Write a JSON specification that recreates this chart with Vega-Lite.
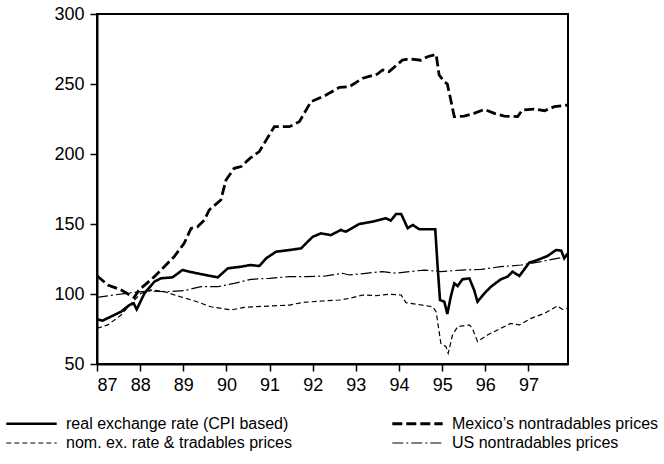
{
  "$schema": "https://vega.github.io/schema/vega-lite/v6.json",
  "width": 471,
  "height": 350,
  "autosize": "none",
  "padding": {"left": 97, "top": 14, "right": 96, "bottom": 100},
  "background": "white",
  "config": {
    "view": {"stroke": "black", "strokeWidth": 2},
    "axis": {
      "grid": false,
      "domainColor": "black",
      "domainWidth": 2,
      "tickColor": "black",
      "tickWidth": 1.5,
      "tickSize": 7,
      "labelFont": "Liberation Sans",
      "labelFontSize": 18,
      "labelColor": "black",
      "title": null
    },
    "legend": {
      "labelFont": "Liberation Sans",
      "labelFontSize": 16,
      "labelColor": "black",
      "labelLimit": 400,
      "symbolType": "M-2.8,0H2.8",
      "symbolSize": 324,
      "labelOffset": 24,
      "columnPadding": 94,
      "rowPadding": 1,
      "padding": 0
    }
  },
  "data": {"values": [
    {"s":"real exchange rate (CPI based)","x":87.0,"v":82},
    {"s":"real exchange rate (CPI based)","x":87.13,"v":81},
    {"s":"real exchange rate (CPI based)","x":87.32,"v":83.8},
    {"s":"real exchange rate (CPI based)","x":87.56,"v":87.4},
    {"s":"real exchange rate (CPI based)","x":87.75,"v":92.1},
    {"s":"real exchange rate (CPI based)","x":87.85,"v":93.3},
    {"s":"real exchange rate (CPI based)","x":87.92,"v":89},
    {"s":"real exchange rate (CPI based)","x":88.1,"v":100.5},
    {"s":"real exchange rate (CPI based)","x":88.33,"v":108.8},
    {"s":"real exchange rate (CPI based)","x":88.48,"v":111.2},
    {"s":"real exchange rate (CPI based)","x":88.75,"v":111.9},
    {"s":"real exchange rate (CPI based)","x":88.98,"v":117.1},
    {"s":"real exchange rate (CPI based)","x":89.25,"v":115.2},
    {"s":"real exchange rate (CPI based)","x":89.56,"v":113.3},
    {"s":"real exchange rate (CPI based)","x":89.8,"v":111.9},
    {"s":"real exchange rate (CPI based)","x":90.03,"v":118.3},
    {"s":"real exchange rate (CPI based)","x":90.34,"v":119.5},
    {"s":"real exchange rate (CPI based)","x":90.55,"v":120.7},
    {"s":"real exchange rate (CPI based)","x":90.76,"v":120},
    {"s":"real exchange rate (CPI based)","x":90.92,"v":125.5},
    {"s":"real exchange rate (CPI based)","x":91.15,"v":130.2},
    {"s":"real exchange rate (CPI based)","x":91.46,"v":131.4},
    {"s":"real exchange rate (CPI based)","x":91.73,"v":132.6},
    {"s":"real exchange rate (CPI based)","x":92.0,"v":140.9},
    {"s":"real exchange rate (CPI based)","x":92.19,"v":143.3},
    {"s":"real exchange rate (CPI based)","x":92.42,"v":142.1},
    {"s":"real exchange rate (CPI based)","x":92.65,"v":145.7},
    {"s":"real exchange rate (CPI based)","x":92.77,"v":144.5},
    {"s":"real exchange rate (CPI based)","x":93.08,"v":150},
    {"s":"real exchange rate (CPI based)","x":93.39,"v":151.7},
    {"s":"real exchange rate (CPI based)","x":93.7,"v":154.1},
    {"s":"real exchange rate (CPI based)","x":93.81,"v":152.4},
    {"s":"real exchange rate (CPI based)","x":93.93,"v":157.1},
    {"s":"real exchange rate (CPI based)","x":94.05,"v":157.1},
    {"s":"real exchange rate (CPI based)","x":94.12,"v":152.5},
    {"s":"real exchange rate (CPI based)","x":94.2,"v":147},
    {"s":"real exchange rate (CPI based)","x":94.32,"v":149.3},
    {"s":"real exchange rate (CPI based)","x":94.47,"v":146.2},
    {"s":"real exchange rate (CPI based)","x":94.84,"v":146.2},
    {"s":"real exchange rate (CPI based)","x":94.89,"v":121.9},
    {"s":"real exchange rate (CPI based)","x":94.95,"v":95.7},
    {"s":"real exchange rate (CPI based)","x":95.05,"v":94.5},
    {"s":"real exchange rate (CPI based)","x":95.12,"v":85.7},
    {"s":"real exchange rate (CPI based)","x":95.2,"v":98.1},
    {"s":"real exchange rate (CPI based)","x":95.28,"v":107.6},
    {"s":"real exchange rate (CPI based)","x":95.36,"v":105.7},
    {"s":"real exchange rate (CPI based)","x":95.47,"v":110.5},
    {"s":"real exchange rate (CPI based)","x":95.63,"v":111.2},
    {"s":"real exchange rate (CPI based)","x":95.74,"v":102.9},
    {"s":"real exchange rate (CPI based)","x":95.82,"v":94.5},
    {"s":"real exchange rate (CPI based)","x":95.98,"v":100.5},
    {"s":"real exchange rate (CPI based)","x":96.13,"v":105.2},
    {"s":"real exchange rate (CPI based)","x":96.36,"v":110.5},
    {"s":"real exchange rate (CPI based)","x":96.52,"v":112.4},
    {"s":"real exchange rate (CPI based)","x":96.63,"v":116},
    {"s":"real exchange rate (CPI based)","x":96.79,"v":112.9},
    {"s":"real exchange rate (CPI based)","x":97.02,"v":122.4},
    {"s":"real exchange rate (CPI based)","x":97.21,"v":124.3},
    {"s":"real exchange rate (CPI based)","x":97.44,"v":127.1},
    {"s":"real exchange rate (CPI based)","x":97.64,"v":131.4},
    {"s":"real exchange rate (CPI based)","x":97.76,"v":131},
    {"s":"real exchange rate (CPI based)","x":97.83,"v":125.5},
    {"s":"real exchange rate (CPI based)","x":97.91,"v":129},

    {"s":"Mexico’s nontradables prices","x":87.0,"v":113},
    {"s":"Mexico’s nontradables prices","x":87.25,"v":106.4},
    {"s":"Mexico’s nontradables prices","x":87.56,"v":102.9},
    {"s":"Mexico’s nontradables prices","x":87.86,"v":97.5},
    {"s":"Mexico’s nontradables prices","x":87.98,"v":103},
    {"s":"Mexico’s nontradables prices","x":88.33,"v":112.4},
    {"s":"Mexico’s nontradables prices","x":88.79,"v":126.7},
    {"s":"Mexico’s nontradables prices","x":89.02,"v":136.2},
    {"s":"Mexico’s nontradables prices","x":89.18,"v":146.9},
    {"s":"Mexico’s nontradables prices","x":89.33,"v":148.1},
    {"s":"Mexico’s nontradables prices","x":89.49,"v":152.9},
    {"s":"Mexico’s nontradables prices","x":89.6,"v":160},
    {"s":"Mexico’s nontradables prices","x":89.87,"v":167.1},
    {"s":"Mexico’s nontradables prices","x":89.99,"v":181.4},
    {"s":"Mexico’s nontradables prices","x":90.18,"v":189.8},
    {"s":"Mexico’s nontradables prices","x":90.34,"v":191},
    {"s":"Mexico’s nontradables prices","x":90.55,"v":197},
    {"s":"Mexico’s nontradables prices","x":90.76,"v":201.7},
    {"s":"Mexico’s nontradables prices","x":91.11,"v":219.5},
    {"s":"Mexico’s nontradables prices","x":91.46,"v":219.5},
    {"s":"Mexico’s nontradables prices","x":91.69,"v":223.1},
    {"s":"Mexico’s nontradables prices","x":91.96,"v":237.4},
    {"s":"Mexico’s nontradables prices","x":92.31,"v":242.1},
    {"s":"Mexico’s nontradables prices","x":92.62,"v":247.6},
    {"s":"Mexico’s nontradables prices","x":92.85,"v":248.1},
    {"s":"Mexico’s nontradables prices","x":93.16,"v":254.1},
    {"s":"Mexico’s nontradables prices","x":93.5,"v":257.1},
    {"s":"Mexico’s nontradables prices","x":93.62,"v":260},
    {"s":"Mexico’s nontradables prices","x":93.77,"v":258.8},
    {"s":"Mexico’s nontradables prices","x":94.08,"v":267.1},
    {"s":"Mexico’s nontradables prices","x":94.24,"v":268},
    {"s":"Mexico’s nontradables prices","x":94.51,"v":267},
    {"s":"Mexico’s nontradables prices","x":94.66,"v":269.5},
    {"s":"Mexico’s nontradables prices","x":94.86,"v":271.2},
    {"s":"Mexico’s nontradables prices","x":94.93,"v":256.4},
    {"s":"Mexico’s nontradables prices","x":95.05,"v":251.6},
    {"s":"Mexico’s nontradables prices","x":95.12,"v":250},
    {"s":"Mexico’s nontradables prices","x":95.2,"v":238.6},
    {"s":"Mexico’s nontradables prices","x":95.28,"v":226.7},
    {"s":"Mexico’s nontradables prices","x":95.51,"v":227.1},
    {"s":"Mexico’s nontradables prices","x":95.74,"v":229},
    {"s":"Mexico’s nontradables prices","x":95.98,"v":231.9},
    {"s":"Mexico’s nontradables prices","x":96.21,"v":229},
    {"s":"Mexico’s nontradables prices","x":96.44,"v":227.1},
    {"s":"Mexico’s nontradables prices","x":96.75,"v":226.7},
    {"s":"Mexico’s nontradables prices","x":96.86,"v":231.4},
    {"s":"Mexico’s nontradables prices","x":97.13,"v":232.1},
    {"s":"Mexico’s nontradables prices","x":97.37,"v":230.9},
    {"s":"Mexico’s nontradables prices","x":97.6,"v":233.8},
    {"s":"Mexico’s nontradables prices","x":97.91,"v":235},

    {"s":"nom. ex. rate & tradables prices","x":87.0,"v":75.5},
    {"s":"nom. ex. rate & tradables prices","x":87.25,"v":77.9},
    {"s":"nom. ex. rate & tradables prices","x":87.56,"v":85},
    {"s":"nom. ex. rate & tradables prices","x":87.83,"v":94.5},
    {"s":"nom. ex. rate & tradables prices","x":88.02,"v":100.5},
    {"s":"nom. ex. rate & tradables prices","x":88.25,"v":102.9},
    {"s":"nom. ex. rate & tradables prices","x":88.56,"v":101.7},
    {"s":"nom. ex. rate & tradables prices","x":88.87,"v":98.6},
    {"s":"nom. ex. rate & tradables prices","x":89.25,"v":95.2},
    {"s":"nom. ex. rate & tradables prices","x":89.64,"v":90.9},
    {"s":"nom. ex. rate & tradables prices","x":90.11,"v":88.6},
    {"s":"nom. ex. rate & tradables prices","x":90.41,"v":90.5},
    {"s":"nom. ex. rate & tradables prices","x":90.65,"v":90.9},
    {"s":"nom. ex. rate & tradables prices","x":91.0,"v":91.4},
    {"s":"nom. ex. rate & tradables prices","x":91.46,"v":92.1},
    {"s":"nom. ex. rate & tradables prices","x":91.77,"v":94},
    {"s":"nom. ex. rate & tradables prices","x":92.23,"v":95},
    {"s":"nom. ex. rate & tradables prices","x":92.62,"v":95.7},
    {"s":"nom. ex. rate & tradables prices","x":92.85,"v":96.9},
    {"s":"nom. ex. rate & tradables prices","x":93.16,"v":99.3},
    {"s":"nom. ex. rate & tradables prices","x":93.47,"v":98.8},
    {"s":"nom. ex. rate & tradables prices","x":93.77,"v":99.8},
    {"s":"nom. ex. rate & tradables prices","x":94.05,"v":99.3},
    {"s":"nom. ex. rate & tradables prices","x":94.16,"v":93.8},
    {"s":"nom. ex. rate & tradables prices","x":94.43,"v":92.6},
    {"s":"nom. ex. rate & tradables prices","x":94.78,"v":90.9},
    {"s":"nom. ex. rate & tradables prices","x":94.86,"v":87.4},
    {"s":"nom. ex. rate & tradables prices","x":94.97,"v":64.8},
    {"s":"nom. ex. rate & tradables prices","x":95.09,"v":62.4},
    {"s":"nom. ex. rate & tradables prices","x":95.14,"v":57.6},
    {"s":"nom. ex. rate & tradables prices","x":95.24,"v":70.7},
    {"s":"nom. ex. rate & tradables prices","x":95.36,"v":76.7},
    {"s":"nom. ex. rate & tradables prices","x":95.63,"v":77.9},
    {"s":"nom. ex. rate & tradables prices","x":95.7,"v":75.5},
    {"s":"nom. ex. rate & tradables prices","x":95.82,"v":66},
    {"s":"nom. ex. rate & tradables prices","x":96.05,"v":70.7},
    {"s":"nom. ex. rate & tradables prices","x":96.36,"v":75.5},
    {"s":"nom. ex. rate & tradables prices","x":96.59,"v":79},
    {"s":"nom. ex. rate & tradables prices","x":96.79,"v":77.9},
    {"s":"nom. ex. rate & tradables prices","x":97.06,"v":82.6},
    {"s":"nom. ex. rate & tradables prices","x":97.37,"v":86.2},
    {"s":"nom. ex. rate & tradables prices","x":97.67,"v":91.4},
    {"s":"nom. ex. rate & tradables prices","x":97.79,"v":89},
    {"s":"nom. ex. rate & tradables prices","x":97.91,"v":89.8},

    {"s":"US nontradables prices","x":87.0,"v":97.6},
    {"s":"US nontradables prices","x":87.4,"v":99.3},
    {"s":"US nontradables prices","x":87.79,"v":100.9},
    {"s":"US nontradables prices","x":88.17,"v":102.1},
    {"s":"US nontradables prices","x":88.64,"v":101.7},
    {"s":"US nontradables prices","x":89.02,"v":102.4},
    {"s":"US nontradables prices","x":89.41,"v":105.2},
    {"s":"US nontradables prices","x":89.8,"v":105.2},
    {"s":"US nontradables prices","x":90.18,"v":107.6},
    {"s":"US nontradables prices","x":90.57,"v":110.5},
    {"s":"US nontradables prices","x":91.0,"v":111.2},
    {"s":"US nontradables prices","x":91.46,"v":112.4},
    {"s":"US nontradables prices","x":91.84,"v":112.4},
    {"s":"US nontradables prices","x":92.31,"v":112.9},
    {"s":"US nontradables prices","x":92.69,"v":114.8},
    {"s":"US nontradables prices","x":92.85,"v":113.6},
    {"s":"US nontradables prices","x":93.23,"v":114.8},
    {"s":"US nontradables prices","x":93.62,"v":116},
    {"s":"US nontradables prices","x":93.93,"v":114.8},
    {"s":"US nontradables prices","x":94.24,"v":116},
    {"s":"US nontradables prices","x":94.58,"v":117.1},
    {"s":"US nontradables prices","x":94.97,"v":116},
    {"s":"US nontradables prices","x":95.44,"v":117.1},
    {"s":"US nontradables prices","x":95.9,"v":117.6},
    {"s":"US nontradables prices","x":96.36,"v":119.5},
    {"s":"US nontradables prices","x":96.83,"v":120.7},
    {"s":"US nontradables prices","x":97.29,"v":123.1},
    {"s":"US nontradables prices","x":97.67,"v":125.5},
    {"s":"US nontradables prices","x":97.91,"v":126.7}
  ]},
  "mark": {"type": "line", "strokeJoin": "miter", "strokeCap": "butt"},
  "encoding": {
    "x": {
      "field": "x",
      "type": "quantitative",
      "scale": {"domain": [87, 97.917], "nice": false, "zero": false},
      "axis": {"values": [87,88,89,90,91,92,93,94,95,96,97], "format": "d", "labelPadding": 5}
    },
    "y": {
      "field": "v",
      "type": "quantitative",
      "scale": {"domain": [50, 300], "nice": false, "zero": false},
      "axis": {"values": [50,100,150,200,250,300], "format": "d", "labelPadding": 6}
    },
    "color": {
      "field": "s",
      "type": "nominal",
      "scale": {
        "domain": ["real exchange rate (CPI based)", "nom. ex. rate & tradables prices", "Mexico’s nontradables prices", "US nontradables prices"],
        "range": ["black", "black", "black", "black"]
      },
      "legend": {"title": null, "orient": "none", "legendX": -76, "legendY": 399, "columns": 2}
    },
    "strokeDash": {
      "field": "s",
      "type": "nominal",
      "scale": {
        "domain": ["real exchange rate (CPI based)", "nom. ex. rate & tradables prices", "Mexico’s nontradables prices", "US nontradables prices"],
        "range": [[1, 0], [5, 3], [10, 4], [11, 3, 2, 3]]
      },
      "legend": {"title": null, "orient": "none", "legendX": -76, "legendY": 399, "columns": 2}
    },
    "strokeWidth": {
      "field": "s",
      "type": "nominal",
      "scale": {
        "type": "ordinal",
        "domain": ["real exchange rate (CPI based)", "nom. ex. rate & tradables prices", "Mexico’s nontradables prices", "US nontradables prices"],
        "range": [2.6, 1.2, 2.8, 1.2]
      },
      "legend": {"title": null, "orient": "none", "legendX": -76, "legendY": 399, "columns": 2}
    }
  }
}
